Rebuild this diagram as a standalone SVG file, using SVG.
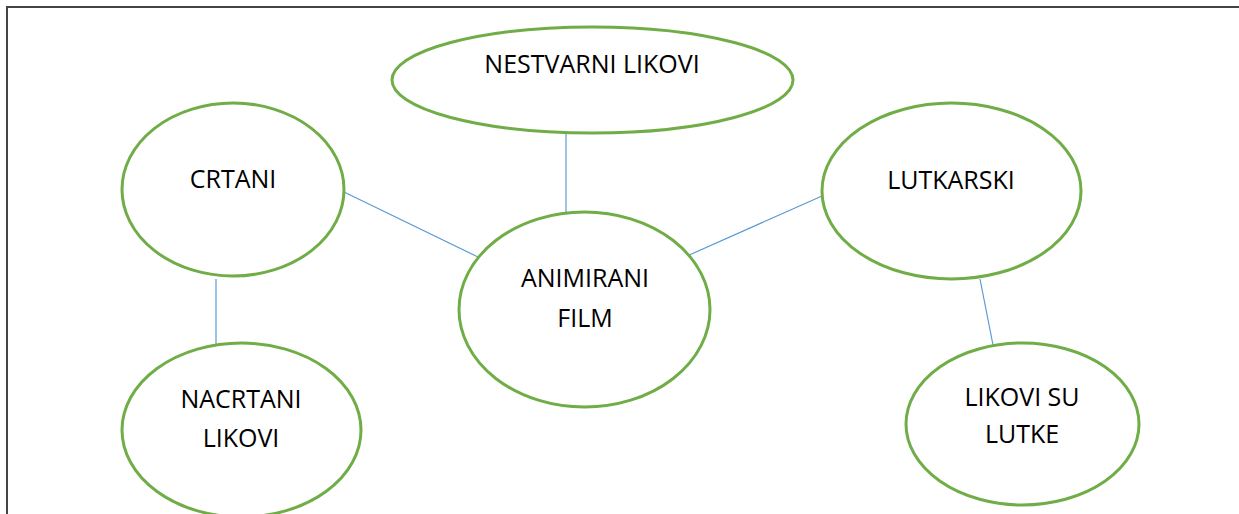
<svg xmlns="http://www.w3.org/2000/svg" width="1239" height="514" viewBox="0 0 1239 514">
<style>
.node{fill:#ffffff;stroke:#70ad47;stroke-width:3}
.lbl{font-family:"Open Sans","Liberation Sans",sans-serif;font-size:25px;fill:#000000;text-anchor:middle}
.conn{stroke:#5b9bd5;stroke-width:1.2;fill:none}
.frame{stroke:#444444;stroke-width:2;fill:none}
</style>
<rect width="1239" height="514" fill="#ffffff"/>
<path class="frame" d="M7,514 V7 H1239"/>
<g id="connectors">
<line class="conn" x1="566" y1="133" x2="566" y2="212"/>
<line class="conn" x1="344" y1="192" x2="478" y2="257"/>
<line class="conn" x1="687" y1="256" x2="822" y2="196"/>
<line class="conn" x1="216" y1="279" x2="216" y2="344"/>
<line class="conn" x1="980" y1="279" x2="993" y2="345"/>
</g>
<g id="nestvarni">
<ellipse class="node" cx="592.5" cy="80" rx="200.5" ry="53"/>
<text class="lbl" x="592" y="73">NESTVARNI LIKOVI</text>
</g>
<g id="crtani">
<ellipse class="node" cx="233" cy="189.5" rx="111" ry="86.5"/>
<text class="lbl" x="233" y="188">CRTANI</text>
</g>
<g id="animirani">
<ellipse class="node" cx="584.5" cy="309.5" rx="125.5" ry="97.5"/>
<text class="lbl" x="585" y="287">ANIMIRANI</text>
<text class="lbl" x="585" y="327">FILM</text>
</g>
<g id="lutkarski">
<ellipse class="node" cx="951.5" cy="191" rx="129.5" ry="88"/>
<text class="lbl" x="951" y="189">LUTKARSKI</text>
</g>
<g id="nacrtani">
<ellipse class="node" cx="241.5" cy="430" rx="119.5" ry="87"/>
<text class="lbl" x="241" y="408">NACRTANI</text>
<text class="lbl" x="241" y="447">LIKOVI</text>
</g>
<g id="likovi-su-lutke">
<ellipse class="node" cx="1022.5" cy="424" rx="116.5" ry="81"/>
<text class="lbl" x="1022" y="406">LIKOVI SU</text>
<text class="lbl" x="1022" y="443">LUTKE</text>
</g>
</svg>
